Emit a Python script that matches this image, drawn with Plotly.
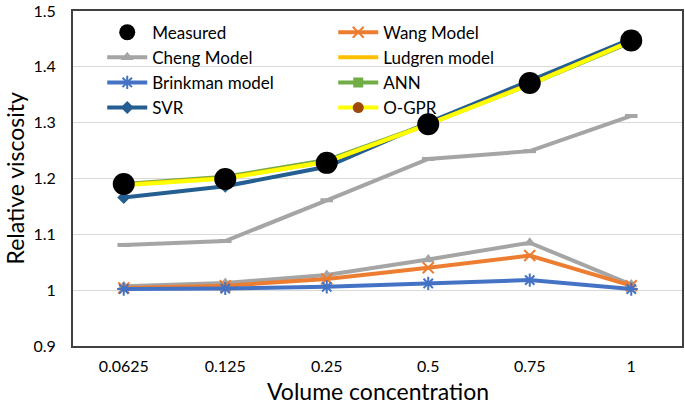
import plotly.graph_objects as go

categories = ["0.0625", "0.125", "0.25", "0.5", "0.75", "1"]
measured = [1.190, 1.199, 1.228, 1.297, 1.371, 1.447]
wang = [1.004, 1.008, 1.020, 1.040, 1.062, 1.008]
cheng = [1.007, 1.013, 1.027, 1.055, 1.085, 1.010]
ludgren = [1.189, 1.201, 1.230, 1.297, 1.369, 1.446]
brinkman = [1.002, 1.003, 1.006, 1.012, 1.018, 1.002]
ann = [1.190, 1.203, 1.233, 1.298, 1.368, 1.444]
svr = [1.166, 1.186, 1.221, 1.300, 1.375, 1.450]
ogpr = [1.188, 1.200, 1.230, 1.297, 1.368, 1.446]
extra_gray = [1.081, 1.088, 1.161, 1.235, 1.249, 1.312]

fig = go.Figure()

def add(name, y, color, rank, symbol=None, msize=9, mcolor=None, mode="lines+markers",
        width=4, showlegend=True, mline=None):
    marker = dict(symbol=symbol or "circle", size=msize, color=mcolor or color)
    if mline:
        marker["line"] = mline
    fig.add_trace(go.Scatter(
        x=categories, y=y, name=name, mode=mode,
        line=dict(color=color, width=width),
        marker=marker, legendrank=rank, showlegend=showlegend,
    ))

add("Cheng Model", cheng, "#A5A5A5", 3, symbol="triangle-up", msize=11)
add("Wang Model", wang, "#ED7D31", 2, symbol="x-thin-open", msize=11,
    mline=dict(color="#ED7D31", width=2))
add("Brinkman model", brinkman, "#4472C4", 5, symbol="asterisk-open", msize=11,
    mline=dict(color="#4472C4", width=2))
add("", extra_gray, "#A5A5A5", 9, symbol="line-ew-open", msize=9, showlegend=False,
    mline=dict(color="#636363", width=4))
add("SVR", svr, "#255E91", 7, symbol="diamond", msize=10)
add("ANN", ann, "#70AD47", 6, symbol="square", msize=10)
add("Ludgren model", ludgren, "#FFC000", 4, mode="lines")
add("O-GPR", ogpr, "#FFFF00", 8, symbol="circle", msize=11, mcolor="#9E480E")
fig.add_trace(go.Scatter(
    x=categories, y=measured, name="Measured", mode="markers",
    marker=dict(symbol="circle", size=22, color="black"), legendrank=1,
))

fig.update_layout(
    width=685, height=408,
    margin=dict(l=73, r=3, t=11, b=62, autoexpand=False),
    paper_bgcolor="white", plot_bgcolor="white",
    font=dict(family="Lato, Open Sans, sans-serif", color="black"),
    showlegend=True,
    legend=dict(
        orientation="h", x=0.048, y=0.989, xanchor="left", yanchor="top",
        entrywidth=176, entrywidthmode="pixels", itemwidth=40,
        font=dict(size=17), bgcolor="rgba(0,0,0,0)", tracegroupgap=0,
    ),
    xaxis=dict(
        type="category", range=[-0.5, 5.5], showgrid=False, automargin=False,
        showline=True, linecolor="#404040", linewidth=2, mirror=True,
        ticks="", tickfont=dict(size=16), ticklabelstandoff=5,
    ),
    yaxis=dict(
        range=[0.9, 1.5], dtick=0.1, tickformat="~g", automargin=False,
        showgrid=True, gridcolor="#D9D9D9", gridwidth=1,
        showline=True, linecolor="#404040", linewidth=2, mirror=True,
        ticks="", tickfont=dict(size=16), zeroline=False, ticklabelstandoff=12,
        ticklabeloverflow="allow",
    ),
    annotations=[
        dict(text="Volume concentration", xref="paper", yref="paper",
             x=0.5, y=0, yshift=-45, xanchor="center", yanchor="middle",
             showarrow=False, font=dict(size=23)),
        dict(text="Relative viscosity", xref="paper", yref="paper",
             x=0, y=0.5, xshift=-59, xanchor="center", yanchor="middle",
             textangle=-90, showarrow=False, font=dict(size=23)),
    ],
)

fig.write_html("out.html", config={"displayModeBar": False},
               post_script="document.body.style.margin='0';")
